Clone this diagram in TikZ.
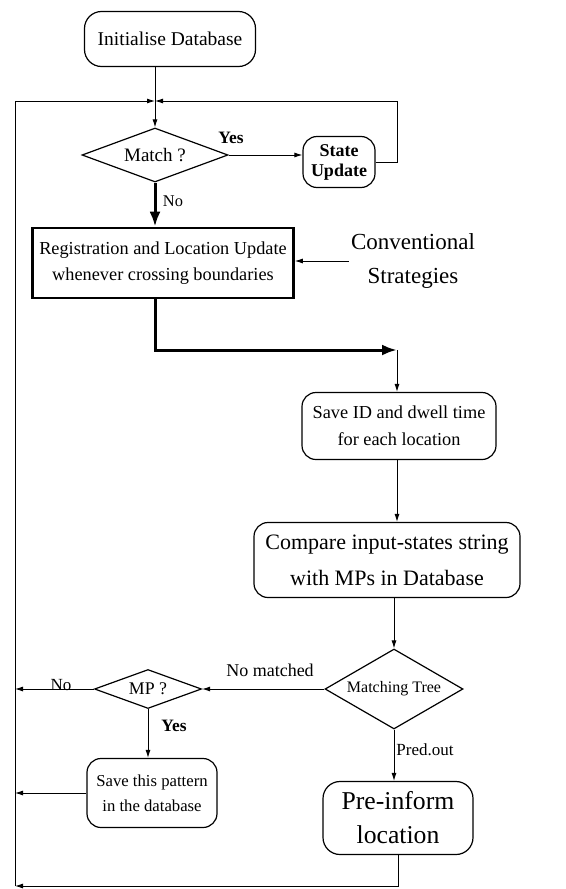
\documentclass[tikz,border=0pt]{standalone}
\usepackage{fontspec}
\setmainfont{Liberation Serif}
\usetikzlibrary{shapes.geometric,arrows.meta}

\newcommand{\fs}[2]{\fontsize{#1}{#2}\selectfont}

\tikzset{
  rbox/.style={draw, line width=1.2pt, rounded corners=14pt, align=center, inner sep=0pt},
  dec/.style={draw, diamond, line width=1.2pt, inner sep=0pt, aspect=2.5},
  line/.style={line width=0.9pt, -{Latex[length=8pt,width=5pt]}},
  heavy/.style={line width=3pt, -{Latex[length=15pt,width=11pt]}},
}

\begin{document}
\begin{tikzpicture}[x=1pt, y=-1pt]

\useasboundingbox (0,0) rectangle (565,889);

\node[rbox, minimum width=171, minimum height=55, rounded corners=17pt, font=\fs{19.5}{24}] (init) at (170,39) {Initialise Database};

\node[dec, minimum width=146, minimum height=54, font=\fs{19}{22}] (match) at (155,155) {Match ?};
\node[rbox, minimum width=72, minimum height=51, font=\fs{18}{20}\bfseries] (state) at (339,162) {State\\Update};

\node[draw, line width=2.6pt, minimum width=261, minimum height=70, inner sep=0pt, align=center, font=\fs{18.3}{26}] (reg) at (163,263)
  {Registration and Location Update\\whenever crossing boundaries};
\node[align=center, inner sep=2pt, font=\fs{23}{34}] (conv) at (413,261) {Conventional\\Strategies};

\node[rbox, minimum width=194, minimum height=67, font=\fs{18.3}{27}] (saveid) at (399,426)
  {Save ID and dwell time\\for each location};
\node[rbox, minimum width=266, minimum height=75, font=\fs{22}{36}] (compare) at (387,560)
  {Compare input-states string\\with MPs in Database};

\node[dec, minimum width=138, minimum height=80, font=\fs{16}{18}] (mtree) at (394,689) {Matching Tree};
\node[dec, minimum width=107, minimum height=39, font=\fs{17.8}{20}] (mp) at (148,689) {MP ?};

\node[rbox, minimum width=130, minimum height=69, font=\fs{16.7}{25}] (savepat) at (152,793)
  {Save this pattern\\in the database};
\node[rbox, minimum width=150, minimum height=73, rounded corners=17pt, font=\fs{25.7}{34}] (preinf) at (398,818)
  {Pre-inform\\location};

\coordinate (jn) at (155,101);
\coordinate (loopR) at (397,101);
\coordinate (bend) at (397,350);
\coordinate (topL) at (15,101);
\coordinate (botL) at (15,886);

% labels
\node[font=\fs{17.4}{20}\bfseries] (yesA) at (231,138) {Yes};
\node[font=\fs{16.4}{20}] (noA) at (173,201) {No};
\node[font=\fs{18}{20}] (nomatch) at (270,670) {No matched};
\node[font=\fs{17}{20}] (noB) at (61,685) {No};
\node[font=\fs{17.4}{20}\bfseries] (yesB) at (174,726) {Yes};
\node[font=\fs{17}{20}] (pred) at (425,750) {Pred.out};

\draw[line] (init.south -| match) -- (match);
\draw[line] (match.east) -- (match.east -| state.west);
\draw[line] (state.east) -| (loopR) -- (jn);
\draw[heavy] (match.south) -- (match |- reg.north);
\draw[line] (conv.west) -- (conv.west -| reg.east);

\draw[heavy] (match |- reg.south) |- (bend);
\draw[line] (bend) -- (bend |- saveid.north);
\draw[line] (saveid.south -| bend) -- (bend |- compare.north);
\draw[line] (mtree |- compare.south) -- (mtree);

\draw[line] (mtree) -- (mp);
\draw[line] (mp.west) -- (mp.west -| topL);
\draw[line] (mp.south) -- (mp.south |- savepat.north);
\draw[line] (savepat.west) -- (savepat.west -| topL);
\draw[line] (mtree.south) -- (mtree.south |- preinf.north);

\draw[line] (preinf.south) |- (botL);
\draw[line] (botL) -- (topL) -- (jn);

\end{tikzpicture}
\end{document}
